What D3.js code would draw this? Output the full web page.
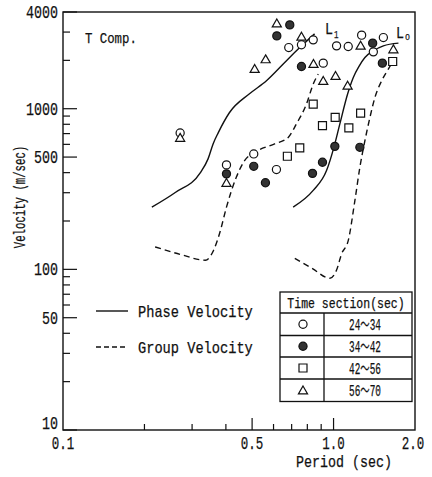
<!DOCTYPE html>
<html>
<head>
<meta charset="utf-8">
<script src="https://cdn.jsdelivr.net/npm/d3@7"></script>
<style>
  body { margin: 0; background: #fff; }
  text { font-family: "Liberation Mono", "Noto Sans CJK JP", monospace; fill: #111; stroke: #111; stroke-width: 0.25; }
</style>
</head>
<body>
<svg id="chart"></svg>
<script>
// dispersion curves, [period (sec), velocity (m/sec)]
var phaseL1 = [[0.213,244],[0.260,301],[0.322,400],[0.344,489],[0.359,606],[0.375,710],[0.412,944],[0.489,1239],[0.565,1493],[0.653,1904],[0.748,2393],[0.851,2924]];
var phaseL0 = [[0.709,244],[0.841,310],[0.942,412],[1.003,575],[1.055,804],[1.127,1234],[1.183,1565],[1.245,1849],[1.306,2083],[1.403,2293],[1.528,2462],[1.737,2559]];
var groupL1 = [[0.219,138],[0.271,124],[0.336,114],[0.360,131],[0.379,167],[0.402,244],[0.437,374],[0.469,475],[0.511,535],[0.606,604],[0.680,663],[0.729,804],[0.794,1069],[0.841,1423],[0.878,1643]];
var groupL0 = [[0.719,117],[0.836,101],[0.969,88],[1.026,99],[1.071,125],[1.133,151],[1.199,268],[1.251,432],[1.306,633],[1.363,883],[1.422,1175],[1.506,1493],[1.594,1765],[1.664,1987]];

// observed points per time section
var sec24 = [[0.271,706],[0.402,447],[0.507,523],[0.615,418],[0.683,2403],[0.761,2500],[0.841,2683],[0.916,1922],[1.026,2462],[1.133,2438],[1.27,2870],[1.403,2259],[1.528,2773]];
var sec34 = [[0.689,3325],[0.617,2840],[0.761,1832],[1.395,2559],[1.515,1922],[1.011,583],[1.251,575],[0.910,464],[0.836,396],[0.507,438],[0.560,346],[0.402,393]];
var sec42 = [[1.654,1967],[0.841,1069],[1.014,883],[0.910,784],[1.139,759],[1.259,940],[0.750,570],[0.675,506]];
var sec56 = [[0.617,3357],[0.761,2773],[0.561,2007],[0.511,1747],[0.843,1876],[0.916,1471],[1.017,1580],[1.127,1376],[1.259,2438],[1.664,2315],[0.402,341],[0.271,651]];

var sectionLabels = ["24〜34", "34〜42", "42〜56", "56〜70"];
var xTickLabels = [0.1, 0.5, 1.0, 2.0];
var yTickLabels = [10, 50, 100, 500, 1000, 4000];

var width = 432, height = 477;
var chart = d3.select('#chart').attr('width', width).attr('height', height);

var x = d3.scaleLog().domain([0.1, 2.0]).range([63, 415]);
var y = d3.scaleLog().domain([10, 4000]).range([430, 12]);

// squeezed typewriter-like text
function label(g, px, py, str, cw, size, anchor) {
  return g.append('text')
    .attr('x', px).attr('y', py)
    .attr('font-size', size)
    .attr('text-anchor', anchor || 'start')
    .attr('textLength', str.length * cw)
    .attr('lengthAdjust', 'spacingAndGlyphs')
    .text(str);
}

// frame
chart.append('rect')
  .attr('x', x(0.1)).attr('y', y(4000))
  .attr('width', x(2.0) - x(0.1)).attr('height', y(10) - y(4000))
  .attr('fill', 'none').attr('stroke', '#111').attr('stroke-width', 1.4);

// inward ticks, y
var yTicks = [];
[10, 100, 1000].forEach(function(dec) {
  for (var k = 1; k < 10; k++) { if (dec * k <= 4000) yTicks.push(dec * k); }
});
chart.selectAll('.ytick').data(yTicks).enter()
  .append('line')
    .attr('x1', x(0.1))
    .attr('x2', function(d) { return x(0.1) + (yTickLabels.indexOf(d) >= 0 ? 14 : 7); })
    .attr('y1', function(d) { return y(d); })
    .attr('y2', function(d) { return y(d); })
    .attr('stroke', '#111').attr('stroke-width', 1.2);

// inward ticks, x
var xTicks = [0.2, 0.3, 0.4, 0.5, 0.6, 0.7, 0.8, 0.9, 1.0];
chart.selectAll('.xtick').data(xTicks).enter()
  .append('line')
    .attr('x1', function(d) { return x(d); })
    .attr('x2', function(d) { return x(d); })
    .attr('y1', y(10))
    .attr('y2', function(d) { return y(10) - (xTickLabels.indexOf(d) >= 0 ? 12 : 6); })
    .attr('stroke', '#111').attr('stroke-width', 1.2);

yTickLabels.forEach(function(d) {
  // the bottom label sits above the corner
  label(chart, 58, d === 10 ? y(d) - 1 : y(d) + 6, String(d), 8, 18, 'end');
});
xTickLabels.forEach(function(d) {
  label(chart, Math.min(x(d), 413), 449, d.toFixed(1), 7.5, 18, 'middle');
});

label(chart, 344, 467, 'Period (sec)', 8, 17, 'middle');
label(chart, 0, 0, 'Velocity (m/sec)', 6.4, 16, 'middle')
  .attr('transform', 'translate(25,197) rotate(-90)');
label(chart, 85, 43, 'T Comp.', 7.4, 15);
label(chart, 325, 34, 'L', 8, 17);
label(chart, 334, 38, '1', 4.5, 11);
label(chart, 396, 38, 'L', 8, 17);
label(chart, 405, 40, 'o', 5, 11);

// curves
var line = d3.line()
  .x(function(d) { return x(d[0]); })
  .y(function(d) { return y(d[1]); })
  .curve(d3.curveMonotoneX);

[phaseL1, phaseL0].forEach(function(c) {
  chart.append('path').attr('d', line(c))
    .attr('fill', 'none').attr('stroke', '#111').attr('stroke-width', 1.4);
});
[groupL1, groupL0].forEach(function(c) {
  chart.append('path').attr('d', line(c))
    .attr('fill', 'none').attr('stroke', '#111').attr('stroke-width', 1.4)
    .attr('stroke-dasharray', '6,4');
});

// markers
var kinds = [
  { data: sec24, type: d3.symbolCircle, size: 52, fill: '#fff' },
  { data: sec34, type: d3.symbolCircle, size: 52, fill: '#333' },
  { data: sec42, type: d3.symbolSquare, size: 64, fill: '#fff' },
  { data: sec56, type: d3.symbolTriangle, size: 36, fill: '#fff' }
];
kinds.forEach(function(k) {
  chart.selectAll(null).data(k.data).enter()
    .append('path')
      .attr('d', d3.symbol(k.type, k.size))
      .attr('transform', function(d) { return 'translate(' + x(d[0]) + ',' + y(d[1]) + ')'; })
      .attr('fill', k.fill).attr('stroke', '#111').attr('stroke-width', 1.2);
});

// line legend
chart.append('line').attr('x1', 96).attr('x2', 128).attr('y1', 311).attr('y2', 311)
  .attr('stroke', '#111').attr('stroke-width', 1.4);
chart.append('line').attr('x1', 96).attr('x2', 128).attr('y1', 347).attr('y2', 347)
  .attr('stroke', '#111').attr('stroke-width', 1.4).attr('stroke-dasharray', '5,3');
label(chart, 138, 317, 'Phase Velocity', 8.2, 17);
label(chart, 138, 353, 'Group Velocity', 8.2, 17);

// time section table
var tb = chart.append('g');
var rowY = [292, 313, 335.5, 357, 379, 401.5];
tb.append('rect').attr('x', 280).attr('y', rowY[0]).attr('width', 132).attr('height', rowY[5] - rowY[0])
  .attr('fill', '#fff').attr('stroke', '#111').attr('stroke-width', 1.3);
rowY.slice(1, 5).forEach(function(ry) {
  tb.append('line').attr('x1', 280).attr('x2', 412).attr('y1', ry).attr('y2', ry)
    .attr('stroke', '#111').attr('stroke-width', 1.3);
});
tb.append('line').attr('x1', 324).attr('x2', 324).attr('y1', rowY[1]).attr('y2', rowY[5])
  .attr('stroke', '#111').attr('stroke-width', 1.3);
label(tb, 346, 308, 'Time section(sec)', 6.9, 14, 'middle');
kinds.forEach(function(k, i) {
  var cy = (rowY[i + 1] + rowY[i + 2]) / 2;
  tb.append('path')
    .attr('d', d3.symbol(k.type, k.size))
    .attr('transform', 'translate(303,' + (cy + (k.type === d3.symbolTriangle ? 1 : 0)) + ')')
    .attr('fill', k.fill).attr('stroke', '#111').attr('stroke-width', 1.2);
  label(tb, 365, cy + 6, sectionLabels[i], 6.4, 16, 'middle');
});

// caption, cut off by the page edge
label(chart, 22, 490, 'Fig. 11  Dispersion curves of T component', 8.5, 18);
</script>
</body>
</html>
